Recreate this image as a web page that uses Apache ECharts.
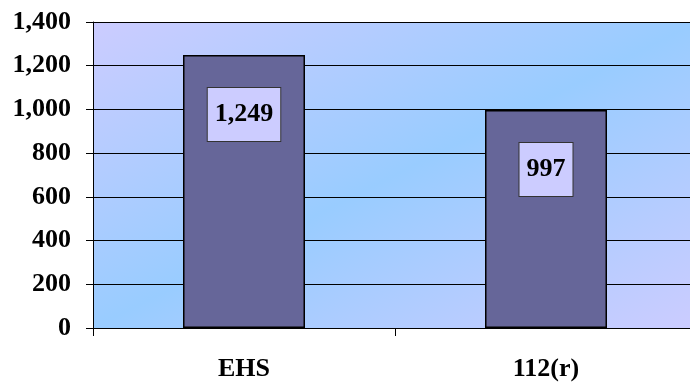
<!DOCTYPE html>
<html>
<head>
<meta charset="utf-8">
<script src="https://cdn.jsdelivr.net/npm/echarts@6/dist/echarts.min.js"></script>
<style>
  html, body { margin: 0; padding: 0; background: #ffffff; }
  #chart { width: 690px; height: 382px; }
</style>
</head>
<body>
<div id="chart"></div>
<script>
// Categories and their counts
const categories = ['EHS', '112(r)'];
const counts = [1249, 997];
const yTicks = { min: 0, max: 1400, step: 200 };

const FONT = '"Liberation Serif", "Times New Roman", serif';

// Plot-area geometry (px); the plot runs slightly past the right edge of the canvas
const plotW = 604, plotH = 306;
const s = 2 * plotW * plotH / (plotW * plotW + plotH * plotH);

const chart = echarts.init(document.getElementById('chart'), null, { renderer: 'canvas' });

chart.setOption({
  animation: false,
  grid: {
    left: 93, top: 22, width: plotW, height: plotH,
    outerBoundsMode: 'none',
    containLabel: false,
    show: true,
    borderWidth: 0,
    backgroundColor: new echarts.graphic.LinearGradient(0, 0, s * plotH / plotW, s * plotW / plotH, [
      { offset: 0, color: '#ccccff' },
      { offset: 0.5, color: '#99ccff' },
      { offset: 1, color: '#ccccff' }
    ])
  },
  xAxis: {
    type: 'category',
    data: categories,
    axisLine: { lineStyle: { color: '#000', width: 1 } },
    axisTick: { show: true, length: 8, lineStyle: { color: '#000' } },
    axisLabel: {
      margin: 28,
      color: '#000',
      fontFamily: FONT,
      fontWeight: 'bold',
      fontSize: 26
    }
  },
  yAxis: {
    type: 'value',
    min: yTicks.min,
    max: yTicks.max,
    interval: yTicks.step,
    axisLine: { show: true, lineStyle: { color: '#000', width: 1 } },
    axisTick: { show: true, length: 7, lineStyle: { color: '#000' } },
    splitLine: { show: true, lineStyle: { color: '#000', width: 1 } },
    axisLabel: {
      margin: 22,
      color: '#000',
      fontFamily: FONT,
      fontWeight: 'bold',
      fontSize: 26,
      formatter: v => v.toLocaleString('en-US')
    }
  },
  series: [{
    type: 'bar',
    data: counts,
    barWidth: 122,
    itemStyle: { color: '#666699', borderColor: '#000', borderWidth: 1.5 },
    label: {
      show: true,
      position: 'insideTop',
      distance: 33,
      formatter: p => p.value.toLocaleString('en-US'),
      color: '#000',
      fontFamily: FONT,
      fontWeight: 'bold',
      fontSize: 26,
      lineHeight: 27,
      backgroundColor: '#ccccff',
      borderColor: '#333',
      borderWidth: 1,
      padding: [13, 7]
    }
  }]
});
</script>
</body>
</html>
